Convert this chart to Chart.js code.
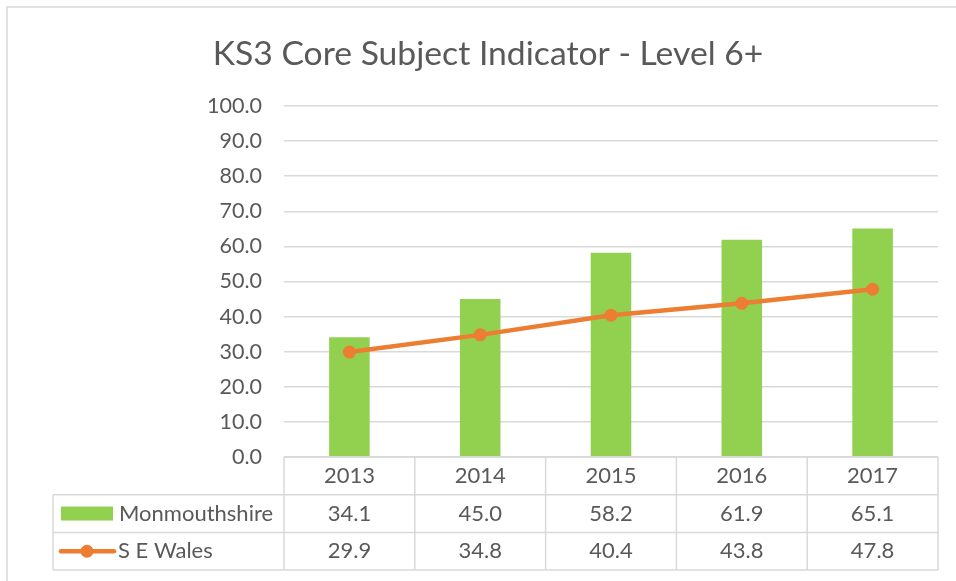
<!DOCTYPE html>
<html>
<head>
<meta charset="utf-8">
<script src="https://cdn.jsdelivr.net/npm/chart.js@4"></script>
<style>
    body { margin: 0; background: #fff; }
    #wrap { width: 956px; height: 581px; }
</style>
</head>
<body>
<div id="wrap"><canvas id="graficoKs3"></canvas></div>
<script>
const anos = ['2013', '2014', '2015', '2016', '2017'];
const monmouthshire = [34.1, 45.0, 58.2, 61.9, 65.1];
const seWales = [29.9, 34.8, 40.4, 43.8, 47.8];
const nomesSeries = ['Monmouthshire', 'S E Wales'];

const corVerde = '#92d050';
const corLaranja = '#ed7d31';
const corTexto = '#595959';
const corGrade = '#d9d9d9';
const fonte = 'Lato, "Open Sans", sans-serif';

// desenha a tabela de dados embaixo do grafico (estilo Excel)
const tabelaPlugin = {
    id: 'tabelaDados',
    afterDraw(chart) {
        const ctx = chart.ctx;
        const x = chart.scales.x;
        const area = chart.chartArea;
        const colW = (area.right - area.left) / anos.length;
        const linhaTopo = area.bottom;
        const h = 37.7;
        const esq = 53;

        ctx.save();
        ctx.strokeStyle = corGrade;
        ctx.lineWidth = 1.5;

        // moldura externa
        ctx.beginPath();
        ctx.moveTo(7, 581);
        ctx.lineTo(7, 7);
        ctx.lineTo(956, 7);
        ctx.stroke();

        ctx.beginPath();
        ctx.moveTo(area.left, linhaTopo);
        ctx.lineTo(area.right, linhaTopo);
        for (let r = 1; r <= 3; r++) {
            ctx.moveTo(esq, linhaTopo + r * h);
            ctx.lineTo(area.right, linhaTopo + r * h);
        }
        for (let i = 0; i <= anos.length; i++) {
            const xx = area.left + i * colW;
            ctx.moveTo(xx, linhaTopo);
            ctx.lineTo(xx, linhaTopo + 3 * h);
        }
        ctx.moveTo(esq, linhaTopo + h);
        ctx.lineTo(esq, linhaTopo + 3 * h);
        ctx.stroke();

        ctx.fillStyle = corTexto;
        ctx.font = '22px ' + fonte;
        ctx.textAlign = 'center';
        ctx.textBaseline = 'middle';
        anos.forEach((ano, i) => {
            const cx = x.getPixelForValue(i);
            ctx.fillText(ano, cx, linhaTopo + h / 2);
            ctx.fillText(monmouthshire[i].toFixed(1), cx, linhaTopo + 1.5 * h);
            ctx.fillText(seWales[i].toFixed(1), cx, linhaTopo + 2.5 * h);
        });

        // legendas dentro da tabela
        const y1 = linhaTopo + 1.5 * h;
        const y2 = linhaTopo + 2.5 * h;
        ctx.fillStyle = corVerde;
        ctx.fillRect(61, y1 - 7, 52, 14);
        ctx.strokeStyle = corLaranja;
        ctx.lineWidth = 4.5;
        ctx.lineCap = 'round';
        ctx.beginPath();
        ctx.moveTo(61, y2);
        ctx.lineTo(114, y2);
        ctx.stroke();
        ctx.fillStyle = corLaranja;
        ctx.beginPath();
        ctx.arc(87, y2, 6.5, 0, Math.PI * 2);
        ctx.fill();

        ctx.fillStyle = corTexto;
        ctx.textAlign = 'left';
        ctx.fillText(nomesSeries[0], 119, y1);
        ctx.fillText(nomesSeries[1], 118, y2);
        ctx.restore();
    }
};

const ctx = document.getElementById('graficoKs3').getContext('2d');
const grafico = new Chart(ctx, {
    type: 'bar',
    data: {
        labels: anos,
        datasets: [
            {
                type: 'line',
                label: nomesSeries[1],
                data: seWales,
                borderColor: corLaranja,
                backgroundColor: corLaranja,
                borderWidth: 4.5,
                pointRadius: 6.5,
                pointBorderWidth: 0,
                tension: 0,
                order: 0
            },
            {
                label: nomesSeries[0],
                data: monmouthshire,
                backgroundColor: corVerde,
                categoryPercentage: 1,
                barPercentage: 0.31,
                order: 1
            }
        ]
    },
    options: {
        responsive: true,
        maintainAspectRatio: false,
        animation: false,
        layout: {
            padding: { left: 38, right: 18, top: 0, bottom: 124 }
        },
        plugins: {
            legend: { display: false },
            tooltip: { enabled: false },
            title: {
                display: true,
                text: 'KS3 Core Subject Indicator - Level 6+',
                color: corTexto,
                font: { family: fonte, size: 33.7, weight: 'normal', lineHeight: 1.2 },
                padding: { top: 33.8, bottom: 31.8 }
            }
        },
        scales: {
            x: { display: false },
            y: {
                min: 0,
                max: 100,
                afterFit(scale) { scale.width = 246; },
                border: { display: false },
                grid: { color: corGrade, lineWidth: 1.5, drawTicks: false },
                ticks: {
                    stepSize: 10,
                    padding: 22,
                    color: corTexto,
                    font: { family: fonte, size: 21.5 },
                    callback: v => v.toFixed(1)
                }
            }
        }
    },
    plugins: [tabelaPlugin]
});
</script>
</body>
</html>
